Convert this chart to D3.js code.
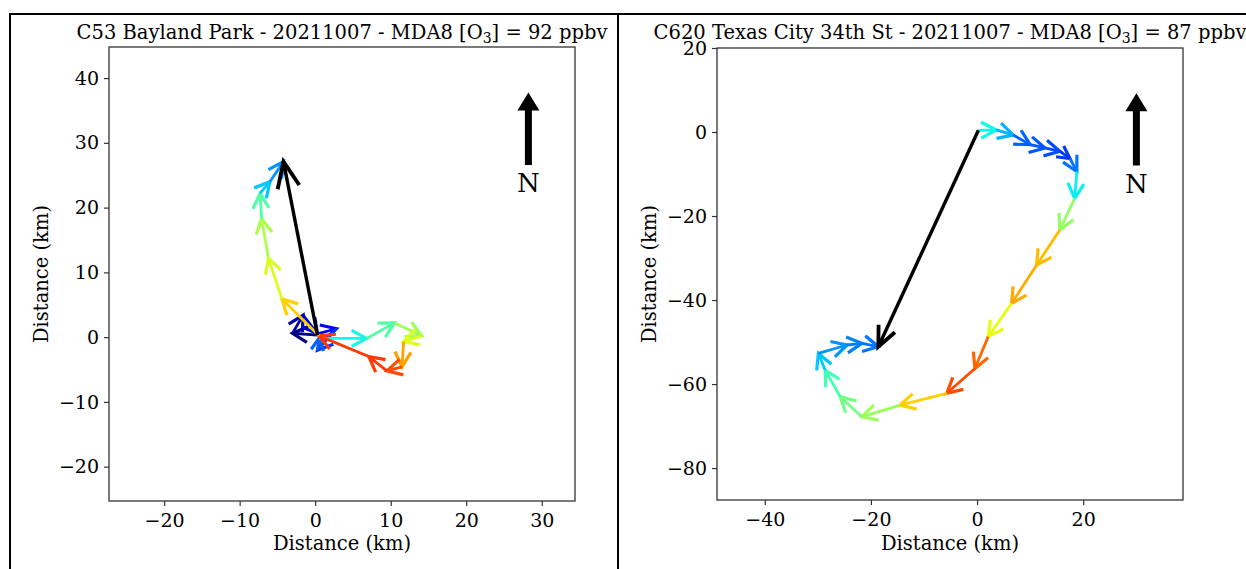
<!DOCTYPE html>
<html>
<head>
<meta charset="utf-8">
<script src="https://cdn.jsdelivr.net/npm/d3@7"></script>
<style>
body { margin: 0; background: #fff; }
text { font-family: "DejaVu Serif", serif; fill: #000; }
</style>
</head>
<body>
<svg id="fig" width="1246" height="569"></svg>
<script>
// ---- left panel: C53 Bayland Park ----
var leftSite = "C53 Bayland Park";
var leftDate = "20211007";
var leftMda8 = 92;
var leftXDomain = [-27.3, 34.4];
var leftYDomain = [-25.3, 44.8];
var leftXTicks = [-20, -10, 0, 10, 20, 30];
var leftYTicks = [-20, -10, 0, 10, 20, 30, 40];
// trajectory points (km east, km north) and colour value per point (jet 0..1)
var leftX = [0.3, -3.0, -1.6, 0.3, 2.8, 0.3, 0.5, 6.8, 10.5, 14.1, 11.7, 11.5, 9.5, 7.1, 0.5, -4.4, -6.2, -7.1, -7.3, -6.0, -4.2];
var leftY = [0.3, 0.6, 3.4, 0.5, 1.3, -2.0, -0.2, -0.2, 2.2, 0.2, -0.7, -4.6, -5.2, -3.0, 0.2, 5.9, 12.2, 18.3, 22.2, 24.0, 27.1];
var leftC = [0, 0.0, 0.04, 0.08, 0.13, 0.18, 0.22, 0.37, 0.45, 0.54, 0.62, 0.74, 0.83, 0.85, 0.85, 0.69, 0.61, 0.56, 0.45, 0.32, 0.27];

// ---- right panel: C620 Texas City 34th St ----
var rightSite = "C620 Texas City 34th St";
var rightDate = "20211007";
var rightMda8 = 87;
var rightXDomain = [-49, 38.8];
var rightYDomain = [-87.6, 20];
var rightXTicks = [-40, -20, 0, 20];
var rightYTicks = [-80, -60, -40, -20, 0, 20];
var rightX = [0.25, 3.6, 6.8, 10.0, 12.8, 15.6, 17.5, 18.8, 18.4, 15.6, 11.2, 6.5, 2.1, -0.4, -5.7, -14.5, -21.7, -25.8, -28.6, -29.9, -24.5, -21.7, -18.6];
var rightY = [0.4, 0.5, -0.7, -3.0, -3.8, -4.6, -6.3, -9.4, -15.8, -23.3, -31.7, -40.8, -48.7, -56.3, -62.2, -65.0, -67.8, -63.0, -56.7, -52.7, -50.7, -50.3, -51.1];
var rightC = [0, 0.37, 0.30, 0.22, 0.21, 0.20, 0.18, 0.24, 0.36, 0.53, 0.71, 0.73, 0.63, 0.80, 0.83, 0.69, 0.54, 0.49, 0.43, 0.32, 0.27, 0.25, 0.24];

// matplotlib jet colormap built from linear scales
var jetR = d3.scaleLinear().domain([0, 0.35, 0.66, 0.89, 1]).range([0, 0, 1, 1, 0.5]).clamp(true);
var jetG = d3.scaleLinear().domain([0, 0.125, 0.375, 0.64, 0.91, 1]).range([0, 0, 1, 1, 0, 0]).clamp(true);
var jetB = d3.scaleLinear().domain([0, 0.11, 0.34, 0.65, 1]).range([0.5, 1, 1, 0, 0]).clamp(true);
function jet(t) {
    return d3.rgb(255 * jetR(t), 255 * jetG(t), 255 * jetB(t)).toString();
}

var svg = d3.select('#fig');

// frame lines around the two panels
svg.append('path')
    .attr('d', 'M10,569V14H1246M618,14V569')
    .attr('fill', 'none').attr('stroke', '#000').attr('stroke-width', 2);

function drawArrow(g, x0, y0, x1, y1, color, sw, L, W) {
    var dx = x1 - x0, dy = y1 - y0, len = Math.hypot(dx, dy);
    if (len < 0.1) return;
    var ux = dx / len, uy = dy / len, nx = -uy, ny = ux;
    var l = Math.min(L, len), w = W * l / L;
    g.append('line')
        .attr('x1', x0).attr('y1', y0).attr('x2', x1).attr('y2', y1)
        .attr('stroke', color).attr('stroke-width', sw);
    g.append('path')
        .attr('d', 'M' + (x1 - ux * l + nx * w) + ',' + (y1 - uy * l + ny * w) +
            'L' + x1 + ',' + y1 +
            'L' + (x1 - ux * l - nx * w) + ',' + (y1 - uy * l - ny * w))
        .attr('fill', 'none').attr('stroke', color).attr('stroke-width', sw + 0.4)
        .attr('stroke-linejoin', 'miter').attr('stroke-miterlimit', 4);
}

function drawPanel(p) {
    var x = d3.scaleLinear().domain(p.xDomain).range([p.left, p.right]);
    var y = d3.scaleLinear().domain(p.yDomain).range([p.bottom, p.top]);
    var g = svg.append('g');

    // title
    var t = g.append('text')
        .attr('x', (p.left + p.right) / 2).attr('y', 39)
        .attr('text-anchor', 'middle').style('font-size', '19.5px');
    t.append('tspan').text(p.site + ' - ' + p.date + ' - MDA8 [O');
    t.append('tspan').attr('dy', 4).style('font-size', '14px').text('3');
    t.append('tspan').attr('dy', -4).text('] = ' + p.mda8 + ' ppbv');

    // axes
    var xa = g.append('g').attr('transform', 'translate(0,' + p.bottom + ')')
        .call(d3.axisBottom(x).tickValues(p.xTicks).tickSize(5).tickPadding(5));
    var ya = g.append('g').attr('transform', 'translate(' + p.left + ',0)')
        .call(d3.axisLeft(y).tickValues(p.yTicks).tickSize(5).tickPadding(5));
    [xa, ya].forEach(function(a) {
        a.select('.domain').remove();
        a.selectAll('line').attr('stroke', '#333').attr('stroke-width', 1.2);
        a.selectAll('text').style('font-size', '19px').style('font-family', '"DejaVu Serif", serif').attr('fill', '#000');
    });
    xa.selectAll('text').attr('dy', '0.82em');

    g.append('rect')
        .attr('x', p.left).attr('y', p.top)
        .attr('width', p.right - p.left).attr('height', p.bottom - p.top)
        .attr('fill', 'none').attr('stroke', '#333').attr('stroke-width', 1.3);

    g.append('text')
        .attr('x', (p.left + p.right) / 2).attr('y', 550)
        .attr('text-anchor', 'middle').style('font-size', '19.5px')
        .text('Distance (km)');
    g.append('text')
        .attr('transform', 'translate(' + (p.left - 61) + ',' + ((p.top + p.bottom) / 2) + ') rotate(-90)')
        .attr('text-anchor', 'middle').style('font-size', '19.5px')
        .text('Distance (km)');

    // trajectory segments
    var tg = g.append('g');
    for (var i = 1; i < p.xs.length; i++) {
        drawArrow(tg, x(p.xs[i - 1]), y(p.ys[i - 1]), x(p.xs[i]), y(p.ys[i]),
            jet(p.cs[i]), 2.8, 15, 8);
    }
    // net displacement
    var n = p.xs.length - 1;
    drawArrow(tg, x(p.xs[0]), y(p.ys[0]), x(p.xs[n]), y(p.ys[n]), '#000', 3.4, p.headL, p.headW);

    // north arrow in axes fraction
    var w = p.right - p.left, h = p.bottom - p.top;
    var nxp = p.left + 0.9 * w, tip = p.bottom - 0.9 * h, base = p.bottom - 0.74 * h;
    g.append('path')
        .attr('d', 'M' + nxp + ',' + tip + 'L' + (nxp + 11) + ',' + (tip + 18) + 'L' + (nxp + 3.5) + ',' + (tip + 18) +
            'L' + (nxp + 3.5) + ',' + base + 'L' + (nxp - 3.5) + ',' + base + 'L' + (nxp - 3.5) + ',' + (tip + 18) +
            'L' + (nxp - 11) + ',' + (tip + 18) + 'Z')
        .attr('fill', '#000');
    g.append('text')
        .attr('x', nxp).attr('y', p.bottom - 0.68 * h)
        .attr('text-anchor', 'middle').style('font-size', '26px')
        .text('N');
}

drawPanel({
    site: leftSite, date: leftDate, mda8: leftMda8,
    xDomain: leftXDomain, yDomain: leftYDomain, xTicks: leftXTicks, yTicks: leftYTicks,
    xs: leftX, ys: leftY, cs: leftC,
    left: 109, right: 575, top: 47, bottom: 501, headL: 26, headW: 11
});
drawPanel({
    site: rightSite, date: rightDate, mda8: rightMda8,
    xDomain: rightXDomain, yDomain: rightYDomain, xTicks: rightXTicks, yTicks: rightYTicks,
    xs: rightX, ys: rightY, cs: rightC,
    left: 717, right: 1183, top: 48, bottom: 500, headL: 20, headW: 9
});
</script>
</body>
</html>
